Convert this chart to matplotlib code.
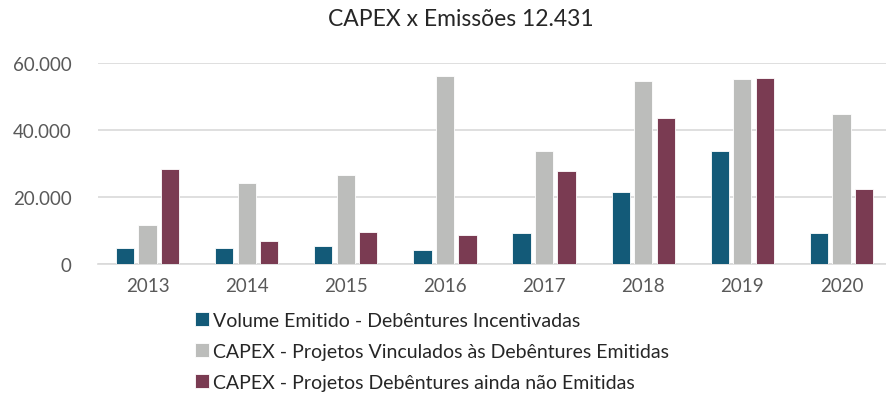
import numpy as np
import matplotlib.pyplot as plt

plt.rcParams['font.family'] = ['Lato', 'DejaVu Sans']

anos = ['2013', '2014', '2015', '2016', '2017', '2018', '2019', '2020']
volume_emitido = [4700, 4700, 5500, 4100, 9200, 21600, 33600, 9200]
capex_vinculados = [11700, 24300, 26500, 56000, 33600, 54700, 55200, 44900]
capex_nao_emitidas = [28400, 6800, 9500, 8600, 27900, 43500, 55600, 22500]

series = [
    ('Volume Emitido - Debêntures Incentivadas', volume_emitido, '#135a78'),
    ('CAPEX - Projetos Vinculados às Debêntures Emitidas', capex_vinculados, '#bcbdbb'),
    ('CAPEX - Projetos Debêntures ainda não Emitidas', capex_nao_emitidas, '#7a3b52'),
]

fig = plt.figure(figsize=(8.86, 4.02), dpi=100)
ax = fig.add_axes([98/886, 137/402, 793/886, 201/402])

x = np.arange(len(anos))
w = 0.185
offs = [-0.227, 0, 0.227]
for (nome, vals, cor), o in zip(series, offs):
    ax.bar(x + o, vals, width=w, color=cor, edgecolor='white', linewidth=0.6, label=nome, zorder=3)

ax.set_xlim(-0.5, 7.5)
ax.set_ylim(0, 60000)
ax.set_yticks([0, 20000, 40000, 60000])
ax.set_yticklabels(['0', '20.000', '40.000', '60.000'])
ax.set_xticks(x)
ax.set_xticklabels(anos)
ax.grid(axis='y', color='#d9d9d9', linewidth=1.2, zorder=0)
for s in ['top', 'right', 'left']:
    ax.spines[s].set_visible(False)
ax.spines['bottom'].set_color('#d9d9d9')
ax.spines['bottom'].set_linewidth(1.2)
ax.tick_params(axis='both', length=0, labelsize=13.5, labelcolor='#595959')
ax.tick_params(axis='y', pad=19)
ax.tick_params(axis='x', pad=9)

fig.text(461/886, 1 - 20/402, 'CAPEX x Emissões 12.431', ha='center', va='center',
         fontsize=16.5, color='#262626')

fig.legend(loc='upper left', bbox_to_anchor=(195/886, 1 - 313/402), frameon=False,
           fontsize=14, handlelength=0.7, handleheight=0.7, handletextpad=0.25,
           labelspacing=0.72, borderaxespad=0, borderpad=0, labelcolor='#262626')

fig.savefig('out.png', dpi=100)
